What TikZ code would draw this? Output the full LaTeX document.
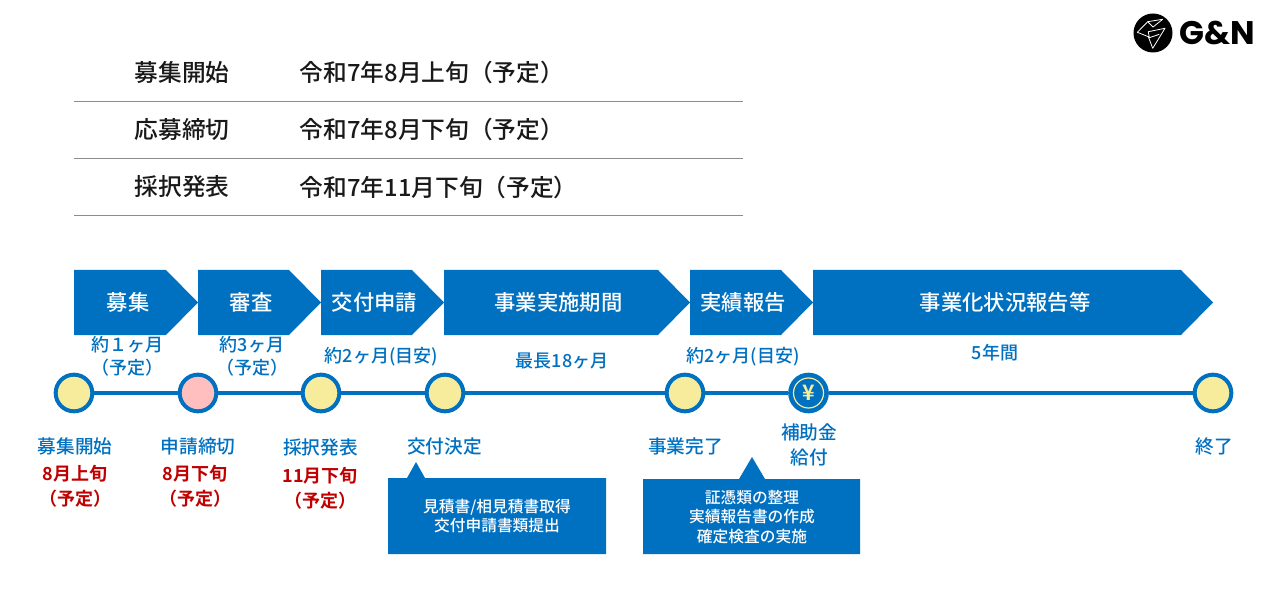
\documentclass[tikz,border=0pt]{standalone}
\usepackage{fontspec}
\setmainfont{Noto Sans CJK JP}[BoldFont={Noto Sans CJK JP Medium}]
\newfontfamily\heavyfont{Noto Sans CJK JP Bold}
\newfontfamily\logofont{Poppins}
\usepackage{tikz}
\definecolor{planblue}{RGB}{0,112,192}
\definecolor{planred}{RGB}{192,0,0}
\definecolor{planyellow}{RGB}{247,236,155}
\definecolor{planpink}{RGB}{255,191,191}
\tikzset{
  headtext/.style={inner sep=0.75pt,font=\fontsize{17.8}{21}\selectfont\bfseries\color{black!90}},
  rowline/.style={color=black!45,line width=0.75pt},
  arrowshape/.style={fill=planblue,draw=none},
  arrowtext/.style={inner sep=0.75pt,text=white,font=\fontsize{16}{19}\selectfont\bfseries},
  spantext/.style={inner sep=0.75pt,align=center,text=planblue,font=\fontsize{13.5}{17}\selectfont\bfseries},
  stagetext/.style={inner sep=0.75pt,align=center,text=planblue,font=\fontsize{14}{18.5}\selectfont\bfseries},
  datetext/.style={inner sep=0.75pt,align=center,text=planred,font=\heavyfont\fontsize{13.5}{18.5}\selectfont},
  notetext/.style={inner sep=0.75pt,align=center,text=white,font=\fontsize{11.8}{14.5}\selectfont\bfseries},
  stagedot/.style={circle,minimum size=27.5pt,inner sep=0pt,draw=planblue,line width=3pt,fill=planyellow},
  timeline/.style={color=planblue,line width=3pt},
}
\begin{document}
\begin{tikzpicture}[x=0.75pt,y=0.75pt,yscale=-1,xscale=1]
\useasboundingbox (0,0) rectangle (1280,598);

%Logo
\fill [black] (1153,33) circle [radius=19.5];
\draw [white,line width=0.6pt,line join=round] (1162.7,19.3) -- (1147.7,21.7) -- (1137.3,32.3) -- (1148.3,36.7) -- (1152.7,48.3) -- (1165,28.3) -- (1148.3,31.7) -- (1149.3,37.7) -- (1159.3,34.3) ;
\draw [white,line width=0.6pt,line join=round] (1162.7,19.3) -- (1153,27) -- (1147.7,21.7) ;
\node (logotext) [anchor=west,inner sep=0pt,font=\logofont\fontsize{24.5}{24}\selectfont\bfseries] at (1179,33) {G\&N};

%Table rows
\node (rowa) [headtext,anchor=west] at (133.5,72.5) {募集開始};
\node (rowadate) [headtext,anchor=west] at (298.5,72.5) {令和7年8月上旬（予定）};
\node (rowb) [headtext,anchor=west] at (133.5,129.5) {応募締切};
\node (rowbdate) [headtext,anchor=west] at (298.5,129.5) {令和7年8月下旬（予定）};
\node (rowc) [headtext,anchor=west] at (133.5,187) {採択発表};
\node (rowcdate) [headtext,anchor=west] at (298.5,187) {令和7年11月下旬（予定）};
\draw [rowline] (74,102) -- (743,102) ;
\draw [rowline] (74,159) -- (743,159) ;
\draw [rowline] (74,216) -- (743,216) ;

%Arrow shapes
\fill [arrowshape] (74,270) -- (166,270) -- (198,302.5) -- (166,335) -- (74,335) -- cycle ;
\fill [arrowshape] (198,270) -- (289,270) -- (321,302.5) -- (289,335) -- (198,335) -- cycle ;
\fill [arrowshape] (321,270) -- (412,270) -- (444,302.5) -- (412,335) -- (321,335) -- cycle ;
\fill [arrowshape] (444,270) -- (658,270) -- (690,302.5) -- (658,335) -- (444,335) -- cycle ;
\fill [arrowshape] (690,270) -- (781,270) -- (813,302.5) -- (781,335) -- (690,335) -- cycle ;
\fill [arrowshape] (813,270) -- (1181,270) -- (1213,302.5) -- (1181,335) -- (813,335) -- cycle ;

% Text Node
\node (boshu) [arrowtext] at (128,302) {募集};
\node (shinsa) [arrowtext] at (251,302) {審査};
\node (shinsei) [arrowtext] at (374.5,302) {交付申請};
\node (jisshi) [arrowtext] at (558.5,302) {事業実施期間};
\node (jisseki) [arrowtext] at (743,302) {実績報告};
\node (jokyo) [arrowtext] at (1005,302) {事業化状況報告等};

% Text Node
\node (spana) [spantext] at (127,356) {約１ヶ月\\（予定）};
\node (spanb) [spantext] at (252,356) {約3ヶ月\\（予定）};
\node (spanc) [spantext] at (381.5,357) {約2ヶ月(目安)};
\node (spand) [spantext] at (562,361) {最長18ヶ月};
\node (spane) [spantext] at (743,357) {約2ヶ月(目安)};
\node (spanf) [spantext] at (995,353) {5年間};

%Stages
\node (dota) [stagedot] at (74,393) {};
\node (dotb) [stagedot,fill=planpink] at (198,393) {};
\node (dotc) [stagedot] at (321,393) {};
\node (dotd) [stagedot] at (445,393) {};
\node (dote) [stagedot] at (685,393) {};
\node (dotf) [stagedot,fill=planblue] at (808.5,393) {};
\node (dotg) [stagedot] at (1213,393) {};
\draw [timeline] (dota) -- (dotb) ;
\draw [timeline] (dotb) -- (dotc) ;
\draw [timeline] (dotc) -- (dotd) ;
\draw [timeline] (dotd) -- (dote) ;
\draw [timeline] (dote) -- (dotf) ;
\draw [timeline] (dotf) -- (dotg) ;
\node (yen) [circle,minimum size=22.5pt,inner sep=0pt,draw=planyellow,line width=0.9pt,text=planyellow,font=\heavyfont\fontsize{16}{16}\selectfont] at (808.5,393) {¥};

% Text Node
\node (stagea) [stagetext] at (75,446) {募集開始};
\node (stageb) [stagetext] at (198,446) {申請締切};
\node (stagec) [stagetext] at (320.5,447) {採択発表};
\node (staged) [stagetext] at (444.5,446) {交付決定};
\node (stagee) [stagetext] at (685.5,446) {事業完了};
\node (stagef) [stagetext] at (809,445) {補助金\\給付};
\node (stageg) [stagetext] at (1214,446) {終了};

% Text Node
\node (datea) [datetext] at (75,486) {8月上旬\\（予定）};
\node (dateb) [datetext] at (195,486) {8月下旬\\（予定）};
\node (datec) [datetext] at (320,488) {11月下旬\\（予定）};

%Notes
\fill [arrowshape] (388,478) -- (407,478) -- (416,462) -- (425,478) -- (606,478) -- (606,554) -- (388,554) -- cycle ;
\fill [arrowshape] (643,479) -- (739,479) -- (752,457) -- (765,479) -- (860,479) -- (860,554) -- (643,554) -- cycle ;
\node (notea) [notetext] at (497,516) {見積書/相見積書取得\\交付申請書類提出};
\node (noteb) [notetext] at (752,517) {証憑類の整理\\実績報告書の作成\\確定検査の実施};

\end{tikzpicture}
\end{document}
